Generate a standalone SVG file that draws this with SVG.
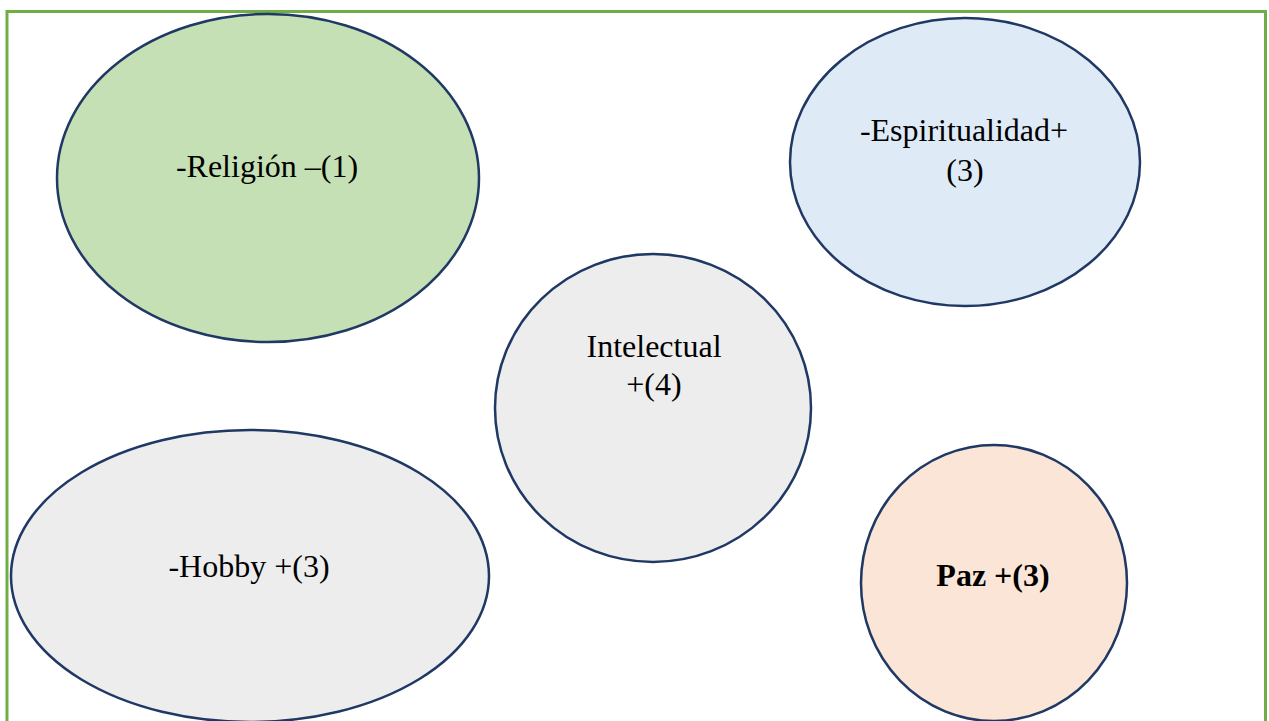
<svg xmlns="http://www.w3.org/2000/svg" width="1269" height="721" viewBox="0 0 1269 721">
  <style>
    .frame { fill: none; stroke: #70AD47; stroke-width: 3; }
    .node { stroke: #203864; stroke-width: 2.5; }
    .label { font-family: "Liberation Serif", "Times New Roman", serif; font-size: 32px; fill: #000; text-anchor: middle; }
    .bold { font-weight: bold; }
  </style>
  <rect width="1269" height="721" fill="#fff"/>
  <rect class="frame" x="7" y="11.5" width="1258.5" height="720"/>

  <g id="religion">
    <ellipse class="node" cx="268" cy="178" rx="211" ry="164" fill="#C5E0B4"/>
    <text class="label" x="267" y="177">-Religión –(1)</text>
  </g>

  <g id="espiritualidad">
    <ellipse class="node" cx="965" cy="162" rx="175" ry="144" fill="#DEEBF7"/>
    <text class="label" x="964" y="141">-Espiritualidad+</text>
    <text class="label" x="965" y="181">(3)</text>
  </g>

  <g id="intelectual">
    <ellipse class="node" cx="653" cy="408" rx="158" ry="154" fill="#EDEDED"/>
    <text class="label" x="654" y="357">Intelectual</text>
    <text class="label" x="654" y="395">+(4)</text>
  </g>

  <g id="hobby">
    <ellipse class="node" cx="250" cy="576" rx="239" ry="146" fill="#EDEDED"/>
    <text class="label" x="249" y="577">-Hobby +(3)</text>
  </g>

  <g id="paz">
    <ellipse class="node" cx="994" cy="583" rx="133" ry="138" fill="#FBE5D6"/>
    <text class="label bold" x="993" y="586">Paz +(3)</text>
  </g>

  <g id="connectors"></g>
</svg>
